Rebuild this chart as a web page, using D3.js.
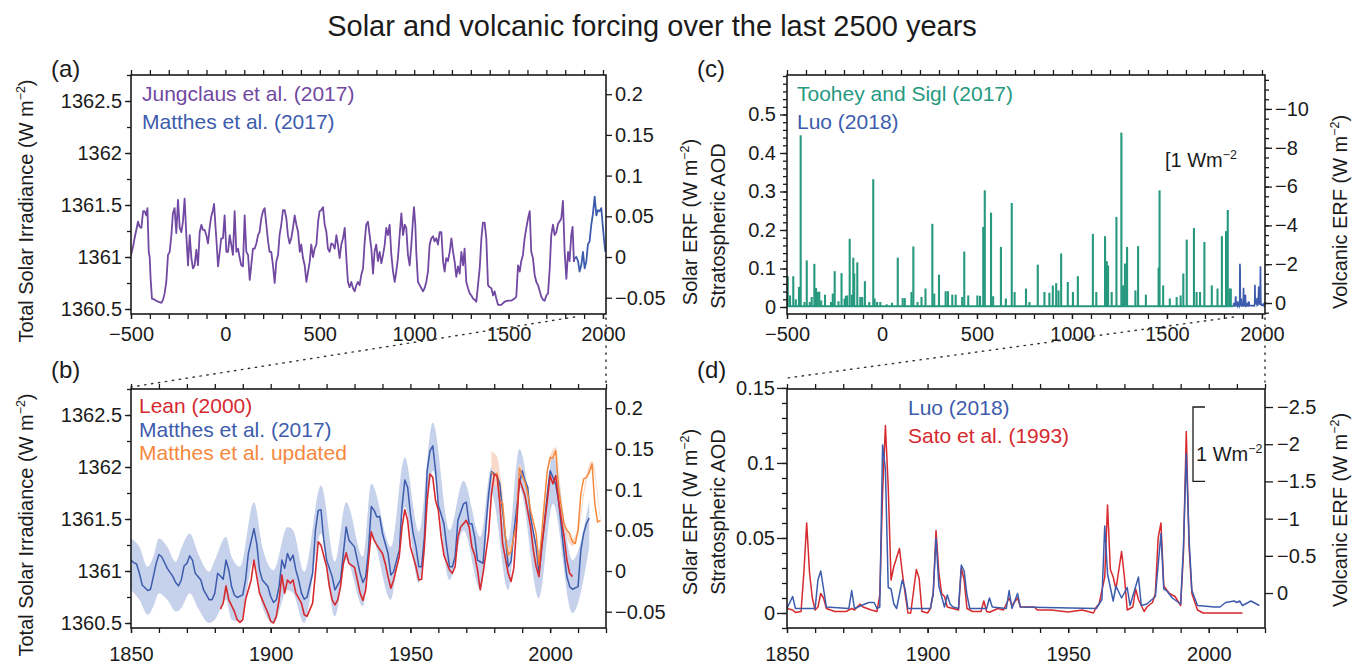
<!DOCTYPE html>
<html>
<head>
<meta charset="utf-8">
<script src="https://cdn.jsdelivr.net/npm/d3@7/dist/d3.min.js"></script>
<style>
html,body{margin:0;padding:0;background:#fff;}
svg{display:block;font-family:"Liberation Sans",Arial,Helvetica,sans-serif;}
</style>
</head>
<body>
<svg id="chart" width="1362" height="664"></svg>
<script>
// ================= DATA =================
// Panel (a): Jungclaus et al. (2017) TSI [year, W m-2]
const jungclausTSI = [[-500,1361.02],[-489,1361.10],[-481,1361.18],[-472,1361.26],[-463,1361.34],[-454,1361.29],[-445,1361.28],[-436,1361.44],[-428,1361.44],[-419,1361.40],[-413,1361.47],[-406,1361.05],[-401,1361.00],[-396,1360.79],[-389,1360.60],[-375,1360.59],[-357,1360.57],[-339,1360.56],[-330,1360.59],[-322,1360.65],[-313,1360.76],[-304,1361.02],[-295,1361.05],[-286,1361.21],[-278,1361.42],[-269,1361.47],[-260,1361.23],[-251,1361.55],[-242,1361.28],[-233,1361.24],[-225,1361.34],[-216,1361.56],[-207,1361.21],[-198,1360.92],[-189,1361.21],[-180,1360.99],[-172,1360.89],[-163,1360.92],[-154,1361.07],[-145,1360.92],[-136,1361.24],[-127,1361.31],[-119,1361.26],[-110,1361.26],[-101,1361.21],[-92,1361.13],[-83,1361.29],[-75,1361.39],[-66,1361.45],[-60,1361.51],[-53,1361.31],[-46,1361.12],[-39,1360.91],[-30,1361.05],[-22,1361.18],[-13,1361.18],[-4,1361.40],[5,1361.05],[14,1361.05],[23,1361.21],[31,1361.12],[40,1361.02],[49,1361.44],[58,1361.05],[67,1361.08],[76,1360.99],[84,1360.92],[93,1360.91],[102,1361.40],[111,1361.05],[120,1361.02],[129,1360.78],[137,1360.92],[146,1361.08],[155,1361.08],[164,1361.13],[173,1361.21],[181,1361.24],[190,1361.37],[199,1361.44],[208,1361.47],[217,1361.31],[226,1361.15],[234,1361.05],[243,1361.05],[252,1360.92],[261,1360.75],[270,1360.96],[279,1361.02],[287,1361.21],[296,1361.31],[305,1361.45],[314,1361.45],[323,1361.37],[331,1361.21],[340,1361.13],[349,1361.18],[358,1361.28],[367,1361.40],[376,1361.31],[385,1361.24],[394,1361.05],[402,1361.12],[411,1360.99],[420,1360.92],[429,1360.76],[438,1360.86],[447,1360.96],[455,1361.12],[464,1361.00],[473,1361.08],[482,1361.12],[491,1361.34],[499,1361.44],[508,1361.45],[517,1361.48],[526,1361.31],[535,1361.24],[543,1361.08],[552,1361.05],[561,1361.13],[570,1361.12],[579,1361.08],[588,1361.21],[596,1361.12],[605,1360.99],[614,1361.12],[623,1361.18],[632,1361.28],[641,1360.98],[649,1360.76],[658,1360.71],[667,1360.76],[676,1360.70],[685,1360.67],[694,1360.73],[702,1360.76],[711,1360.73],[720,1360.83],[729,1360.89],[738,1361.15],[746,1361.31],[755,1361.34],[764,1361.21],[773,1361.08],[782,1360.84],[790,1361.05],[799,1361.12],[808,1360.96],[817,1361.05],[826,1360.94],[835,1361.02],[844,1361.12],[852,1361.28],[861,1361.21],[870,1361.31],[879,1361.02],[888,1360.86],[897,1360.76],[905,1360.86],[914,1360.99],[923,1361.21],[932,1361.42],[941,1361.21],[950,1361.31],[958,1361.28],[967,1361.02],[976,1360.92],[985,1361.12],[994,1361.37],[999,1361.48],[1006,1361.31],[1011,1361.05],[1020,1360.76],[1029,1360.73],[1038,1360.70],[1047,1360.67],[1055,1360.70],[1064,1360.76],[1073,1360.86],[1082,1361.12],[1091,1361.18],[1100,1361.20],[1108,1361.15],[1117,1361.18],[1126,1361.12],[1135,1361.24],[1144,1361.24],[1153,1360.96],[1161,1360.86],[1170,1360.99],[1179,1360.96],[1188,1361.05],[1197,1361.18],[1206,1361.05],[1214,1360.96],[1223,1360.81],[1232,1360.91],[1241,1360.84],[1250,1361.05],[1259,1360.92],[1267,1361.08],[1276,1360.76],[1285,1360.70],[1294,1360.65],[1303,1360.63],[1312,1360.60],[1320,1360.59],[1329,1360.57],[1338,1360.73],[1347,1360.89],[1356,1361.18],[1364,1361.33],[1373,1361.33],[1382,1361.18],[1391,1360.73],[1400,1360.71],[1409,1360.70],[1418,1360.63],[1426,1360.67],[1435,1360.60],[1444,1360.54],[1453,1360.54],[1461,1360.54],[1479,1360.57],[1497,1360.58],[1514,1360.58],[1532,1360.60],[1541,1360.62],[1550,1360.92],[1559,1360.86],[1567,1360.96],[1576,1361.02],[1585,1361.18],[1594,1361.28],[1603,1361.37],[1612,1361.44],[1620,1361.05],[1629,1360.99],[1638,1360.83],[1647,1360.76],[1656,1360.73],[1665,1360.67],[1673,1360.62],[1682,1360.59],[1691,1360.58],[1700,1360.63],[1709,1360.65],[1718,1360.89],[1726,1361.21],[1735,1361.31],[1744,1361.21],[1753,1361.24],[1762,1361.32],[1770,1361.34],[1779,1361.37],[1788,1361.54],[1797,1361.05],[1806,1360.79],[1815,1361.05],[1823,1360.96],[1832,1361.21],[1839,1361.29],[1846,1360.96],[1850,1360.99]];

// Panel (a): Matthes et al. (2017) TSI (long-term view)
const matthesLongTSI = [[1850,1360.99],[1859,1361.00],[1868,1360.96],[1876,1360.86],[1885,1360.92],[1894,1361.05],[1903,1360.89],[1912,1360.96],[1920,1361.12],[1929,1361.15],[1938,1361.31],[1947,1361.42],[1956,1361.58],[1965,1361.40],[1973,1361.45],[1982,1361.44],[1991,1361.47],[2000,1361.28],[2008,1361.12],[2013,1361.05]];

// Panel (b): Matthes et al. (2017) TSI
const matthesTSI = [[1850,1361.105],[1851,1361.08],[1852,1361.067],[1853,1360.978],[1854,1360.866],[1856,1360.812],[1857,1360.825],[1858,1360.946],[1859,1361.073],[1860,1361.159],[1861,1361.137],[1863,1361.025],[1865,1360.946],[1866,1360.889],[1867,1360.857],[1868,1360.914],[1869,1361.048],[1870,1361.073],[1871,1361.146],[1872,1361.105],[1873,1360.978],[1875,1360.914],[1876,1360.818],[1878,1360.723],[1879,1360.723],[1880,1360.787],[1881,1360.978],[1882,1360.952],[1883,1360.92],[1884,1361.105],[1885,1361.01],[1886,1360.85],[1887,1360.77],[1888,1360.745],[1890,1360.77],[1891,1360.914],[1892,1361.169],[1894,1361.408],[1895,1361.264],[1896,1361.01],[1897,1360.914],[1899,1360.85],[1900,1360.755],[1901,1360.697],[1902,1360.723],[1903,1360.85],[1904,1361.105],[1905,1361.025],[1906,1361.169],[1907,1361.10],[1908,1361.153],[1909,1361.01],[1910,1360.914],[1911,1360.787],[1912,1360.729],[1913,1360.748],[1915,1360.978],[1916,1361.39],[1917,1361.583],[1918,1361.589],[1919,1361.296],[1920,1361.105],[1922,1360.946],[1923,1360.818],[1925,1360.914],[1926,1361.169],[1927,1361.424],[1928,1361.296],[1930,1361.232],[1931,1361.105],[1932,1360.978],[1933,1360.889],[1934,1360.946],[1935,1361.2],[1936,1361.621],[1937,1361.583],[1938,1361.519],[1939,1361.525],[1940,1361.36],[1942,1361.169],[1943,1360.962],[1944,1360.994],[1946,1361.2],[1947,1361.615],[1948,1361.876],[1949,1361.806],[1950,1361.551],[1951,1361.36],[1952,1361.232],[1953,1361.041],[1954,1361.041],[1955,1361.328],[1956,1361.965],[1957,1362.156],[1958,1362.204],[1959,1361.965],[1960,1361.631],[1962,1361.455],[1963,1361.232],[1964,1361.041],[1965,1361.041],[1966,1361.137],[1967,1361.487],[1969,1361.646],[1970,1361.662],[1971,1361.455],[1972,1361.455],[1973,1361.328],[1974,1361.105],[1975,1361.089],[1976,1361.073],[1977,1361.424],[1978,1361.742],[1979,1361.955],[1981,1361.917],[1982,1361.838],[1983,1361.567],[1984,1361.328],[1985,1361.041],[1986,1361.089],[1987,1361.36],[1989,1361.838],[1990,1361.965],[1991,1361.869],[1992,1361.806],[1993,1361.519],[1995,1361.232],[1996,1360.978],[1997,1361.232],[1999,1361.742],[2000,1361.965],[2001,1361.901],[2002,1361.831],[2003,1361.678],[2005,1361.169],[2006,1360.946],[2007,1360.85],[2008,1360.825],[2010,1360.85],[2011,1361.2],[2012,1361.36],[2013,1361.455],[2014,1361.51]];

// Panel (b): Matthes et al. (2017) uncertainty range [year, low, high]
const matthesBand = [[1850,1360.818,1361.312],[1853,1360.723,1361.232],[1856,1360.58,1361.041],[1858,1360.659,1361.137],[1860,1360.787,1361.312],[1863,1360.723,1361.232],[1866,1360.611,1361.089],[1868,1360.643,1361.217],[1871,1360.787,1361.36],[1874,1360.643,1361.169],[1878,1360.5,1360.994],[1880,1360.532,1361.105],[1884,1360.723,1361.328],[1886,1360.532,1361.137],[1889,1360.516,1361.041],[1894,1361.105,1361.662],[1897,1360.659,1361.232],[1901,1360.5,1361.01],[1906,1360.818,1361.424],[1908,1360.787,1361.392],[1912,1360.5,1360.994],[1918,1361.36,1361.822],[1923,1360.564,1361.089],[1927,1361.105,1361.662],[1933,1360.659,1361.137],[1936,1361.328,1361.838],[1943,1360.723,1361.232],[1948,1361.615,1362.092],[1953,1360.882,1361.376],[1958,1361.965,1362.427],[1964,1360.914,1361.392],[1969,1361.392,1361.869],[1975,1360.818,1361.328],[1979,1361.742,1361.997],[1985,1360.818,1361.296],[1989,1361.806,1362.172],[1996,1360.739,1361.2],[2001,1361.646,1362.108],[2008,1360.596,1361.105],[2014,1361.232,1361.678]];

// Panel (b): Lean (2000) TSI
const leanTSI = [[1882,1360.634],[1883,1360.691],[1884,1360.857],[1885,1360.723],[1887,1360.611],[1888,1360.532],[1889,1360.506],[1890,1360.532],[1891,1360.723],[1893,1360.914],[1894,1361.105],[1895,1360.946],[1896,1360.787],[1898,1360.659],[1899,1360.596],[1900,1360.516],[1901,1360.5],[1902,1360.564],[1903,1360.723],[1904,1360.962],[1905,1360.787],[1906,1360.914],[1907,1360.882],[1908,1360.914],[1909,1360.787],[1911,1360.691],[1912,1360.58],[1913,1360.564],[1915,1360.691],[1916,1360.978],[1917,1361.28],[1918,1361.248],[1920,1361.041],[1921,1360.85],[1922,1360.723],[1923,1360.675],[1924,1360.723],[1925,1360.85],[1926,1361.073],[1927,1361.175],[1928,1361.073],[1930,1361.035],[1931,1360.914],[1932,1360.787],[1933,1360.717],[1934,1360.818],[1935,1361.105],[1936,1361.376],[1937,1361.296],[1938,1361.248],[1940,1361.169],[1941,1361.073],[1942,1360.946],[1943,1360.834],[1944,1360.914],[1946,1361.137],[1947,1361.424],[1948,1361.589],[1949,1361.487],[1950,1361.232],[1952,1361.041],[1953,1360.914],[1954,1360.92],[1955,1361.232],[1956,1361.678],[1957,1361.933],[1958,1361.901],[1959,1361.678],[1960,1361.583],[1961,1361.328],[1962,1361.153],[1964,1361.01],[1965,1360.978],[1966,1361.041],[1967,1361.328],[1968,1361.424],[1970,1361.487],[1971,1361.424],[1972,1361.232],[1973,1361.153],[1974,1361.01],[1975,1360.818],[1976,1360.978],[1978,1361.36],[1979,1361.742],[1980,1361.927],[1981,1361.917],[1982,1361.646],[1983,1361.264],[1985,1360.978],[1986,1360.898],[1987,1361.025],[1988,1361.424],[1989,1361.885],[1990,1361.806],[1991,1361.726],[1993,1361.424],[1994,1361.2],[1995,1361.041],[1996,1360.946],[1997,1361.232],[1999,1361.678],[2000,1361.917],[2001,1361.838],[2002,1361.917],[2003,1361.678],[2005,1361.328],[2006,1361.105],[2007,1360.978],[2008,1360.946]];

// Panel (b): Matthes et al. updated TSI and its range
const matthesUpdTSI = [[1979,1361.949],[1980,1361.917],[1981,1361.939],[1982,1361.678],[1983,1361.646],[1984,1361.328],[1985,1361.153],[1986,1361.185],[1987,1361.328],[1988,1361.455],[1989,1361.99],[1990,1361.917],[1991,1361.854],[1992,1361.742],[1993,1361.583],[1995,1361.36],[1996,1361.057],[1997,1361.36],[1998,1361.678],[1999,1361.965],[2000,1362.092],[2001,1362.086],[2002,1362.156],[2003,1361.806],[2004,1361.615],[2005,1361.455],[2006,1361.392],[2007,1361.36],[2008,1361.28],[2009,1361.264],[2010,1361.392],[2011,1361.742],[2012,1361.885],[2013,1361.901],[2014,1361.949],[2015,1362.029],[2016,1361.646],[2017,1361.471],[2018,1361.487]];
const matthesUpdBand = [[1979,1361.80,1362.15],[1981,1361.82,1362.10],[1982,1361.62,1361.95],[1983,1361.55,1361.75],[1985,1361.12,1361.22],[1987,1361.29,1361.37],[1989,1361.95,1362.03],[1992,1361.71,1361.77],[1996,1361.02,1361.09],[1999,1361.93,1362.0],[2002,1362.12,1362.19],[2005,1361.42,1361.49],[2008,1361.24,1361.31],[2010,1361.36,1361.42],[2013,1361.86,1361.93],[2015,1362.0,1362.06],[2018,1361.45,1361.52]];

// Panel (c): Toohey and Sigl (2017) stratospheric AOD [year, AOD]
const tooheyAOD = [[-496,0.080],[-484,0.030],[-467,0.080],[-454,0.020],[-437,0.052],[-428,0.446],[-408,0.013],[-396,0.121],[-380,0.013],[-370,0.026],[-356,0.112],[-347,0.049],[-338,0.039],[-330,0.040],[-320,0.017],[-300,0.032],[-268,0.013],[-259,0.035],[-249,0.093],[-229,0.015],[-213,0.088],[-197,0.022],[-190,0.029],[-183,0.030],[-170,0.177],[-158,0.032],[-151,0.128],[-146,0.087],[-130,0.116],[-114,0.026],[-104,0.026],[-90,0.067],[-67,0.013],[-46,0.332],[-39,0.022],[-26,0.013],[-9,0.013],[25,0.007],[53,0.011],[83,0.128],[109,0.023],[120,0.023],[155,0.039],[165,0.157],[187,0.013],[208,0.026],[229,0.048],[265,0.216],[275,0.035],[300,0.084],[335,0.041],[347,0.041],[370,0.032],[388,0.032],[422,0.026],[433,0.144],[454,0.030],[502,0.030],[516,0.029],[533,0.208],[541,0.303],[574,0.245],[585,0.028],[626,0.156],[652,0.022],[683,0.270],[698,0.039],[758,0.048],[776,0.013],[820,0.110],[855,0.039],[881,0.037],[899,0.056],[917,0.062],[929,0.043],[943,0.139],[978,0.065],[1005,0.039],[1031,0.080],[1110,0.190],[1128,0.039],[1174,0.184],[1183,0.119],[1190,0.108],[1209,0.039],[1234,0.234],[1260,0.453],[1269,0.056],[1279,0.113],[1290,0.156],[1334,0.043],[1348,0.158],[1389,0.032],[1456,0.102],[1461,0.303],[1480,0.056],[1515,0.022],[1551,0.026],[1572,0.030],[1586,0.087],[1604,0.175],[1642,0.205],[1656,0.039],[1674,0.039],[1697,0.169],[1736,0.056],[1766,0.048],[1789,0.184],[1811,0.197],[1820,0.252],[1829,0.048],[1836,0.048]];
const tooheyBackground = 0.002;
const tooheySpan = [-500, 1850];

// Panels (c) and (d): Luo (2018) stratospheric AOD
const luoAOD = [[1850,0.003],[1852,0.011],[1853,0.003],[1860,0.003],[1861,0.022],[1862,0.028],[1863,0.016],[1864,0.004],[1872,0.003],[1873,0.015],[1874,0.003],[1879,0.007],[1881,0.007],[1882,0.003],[1883,0.004],[1884,0.112],[1885,0.096],[1886,0.017],[1887,0.016],[1888,0.006],[1889,0.003],[1891,0.022],[1892,0.016],[1893,0.003],[1901,0.003],[1902,0.013],[1903,0.050],[1904,0.018],[1906,0.004],[1907,0.012],[1908,0.006],[1909,0.004],[1911,0.003],[1912,0.032],[1913,0.028],[1914,0.012],[1915,0.003],[1921,0.003],[1922,0.010],[1923,0.004],[1928,0.003],[1929,0.015],[1930,0.003],[1932,0.013],[1933,0.004],[1960,0.003],[1962,0.009],[1963,0.058],[1964,0.026],[1966,0.008],[1967,0.018],[1969,0.010],[1971,0.017],[1972,0.005],[1975,0.024],[1976,0.005],[1978,0.006],[1981,0.011],[1983,0.053],[1984,0.016],[1985,0.015],[1987,0.010],[1990,0.006],[1991,0.044],[1992,0.106],[1993,0.049],[1994,0.015],[1996,0.005],[2002,0.004],[2004,0.004],[2006,0.007],[2009,0.008],[2010,0.007],[2011,0.008],[2012,0.005],[2015,0.008],[2018,0.005]];

// Panel (d): Sato et al. (1993) stratospheric AOD
const satoAOD = [[1850,0.003],[1852,0.002],[1853,0.0004],[1855,0.001],[1856,0.027],[1857,0.060],[1858,0.027],[1859,0.010],[1860,0.002],[1861,0.004],[1862,0.013],[1863,0.010],[1864,0.003],[1867,0.001],[1871,0.001],[1873,0.003],[1874,0.002],[1876,0.006],[1877,0.004],[1880,0.002],[1882,0.001],[1883,0.012],[1884,0.080],[1885,0.125],[1886,0.084],[1887,0.022],[1888,0.031],[1890,0.043],[1891,0.027],[1892,0.013],[1893,0.0],[1894,0.0],[1896,0.029],[1897,0.023],[1898,0.001],[1900,0.0],[1901,0.003],[1902,0.013],[1903,0.055],[1904,0.027],[1905,0.013],[1906,0.011],[1907,0.004],[1909,0.003],[1911,0.002],[1912,0.030],[1913,0.022],[1914,0.003],[1916,0.001],[1919,0.001],[1920,0.008],[1921,0.001],[1922,0.0005],[1925,0.003],[1927,0.002],[1929,0.010],[1930,0.005],[1932,0.010],[1933,0.004],[1938,0.004],[1939,0.002],[1944,0.002],[1950,0.0007],[1955,0.002],[1959,0.0],[1960,0.004],[1961,0.006],[1963,0.024],[1964,0.072],[1965,0.029],[1966,0.024],[1967,0.016],[1969,0.041],[1970,0.024],[1971,0.002],[1973,0.004],[1974,0.016],[1975,0.009],[1977,0.001],[1978,0.004],[1980,0.007],[1981,0.013],[1982,0.050],[1983,0.060],[1984,0.018],[1986,0.013],[1988,0.011],[1990,0.005],[1991,0.040],[1992,0.121],[1993,0.044],[1994,0.013],[1996,0.002],[1998,0.0],[2012,0.0]];

// Tick values
const longYearTicks = [-500, 0, 500, 1000, 1500, 2000];
const shortYearTicks = [1850, 1900, 1950, 2000];
const tsiTicks = [1360.5, 1361, 1361.5, 1362, 1362.5];
const solarErfTicks = [-0.05, 0, 0.05, 0.1, 0.15, 0.2];
const aodTicksC = [0, 0.1, 0.2, 0.3, 0.4, 0.5];
const volcErfTicksC = [0, -2, -4, -6, -8, -10];
const aodTicksD = [0, 0.05, 0.1, 0.15];
const volcErfTicksD = [0, -0.5, -1, -1.5, -2, -2.5];
const scaleBarD = [-2.5, -1.5];

// ================= DRAWING =================
const COL = {purple:"#7149a2", blue:"#3d5cad", red:"#d62a2f", orange:"#f5883d",
             teal:"#26997f", band:"#c6d1eb", oband:"#f8d2bf", ink:"#1b1b1b"};
const svg = d3.select("#chart");
const defs = svg.append("defs");

const P = {
  a:{l:131, r:606, t:75, b:314},
  b:{l:131, r:606, t:389, b:628},
  c:{l:787, r:1265, t:75, b:314},
  d:{l:787, r:1265, t:389, b:628}
};

function clip(id, p){
  defs.append("clipPath").attr("id", id).append("rect")
    .attr("x", p.l).attr("y", p.t).attr("width", p.r - p.l).attr("height", p.b - p.t);
}
Object.keys(P).forEach(k => clip("clip-" + k, P[k]));

const fmt = d3.format("");

function addAxis(gen, tx, ty, values, size, pad, labels){
  const ax = gen.tickValues(values).tickSize(size).tickPadding(pad)
    .tickFormat(labels ? fmt : () => "");
  const g = svg.append("g").attr("transform", `translate(${tx},${ty})`).call(ax);
  g.attr("font-family", null).attr("font-size", null);
  g.select(".domain").remove();
  g.selectAll(".tick line").attr("stroke", COL.ink).attr("stroke-width", 1.3);
  g.selectAll(".tick text").attr("fill", COL.ink).style("font-size", "20px");
  return g;
}

function box(p){
  svg.append("rect").attr("x", p.l).attr("y", p.t).attr("width", p.r - p.l).attr("height", p.b - p.t)
    .attr("fill", "none").attr("stroke", COL.ink).attr("stroke-width", 1.6);
}

function text(x, y, str, size, color, anchor, rot){
  const t = svg.append("text").attr("x", x).attr("y", y)
    .attr("font-size", size).attr("fill", color || COL.ink)
    .attr("text-anchor", anchor || "start");
  if (rot) t.attr("transform", `rotate(${rot},${x},${y})`);
  t.text(str);
  return t;
}
function unitText(x, y, before, size, anchor, rot, after){
  const t = text(x, y, "", size, COL.ink, anchor, rot);
  t.append("tspan").text(before);
  t.append("tspan").attr("dy", -8).attr("font-size", size * 0.62).text("\u22122");
  t.append("tspan").attr("dy", 8).text(after === undefined ? ")" : after);
  return t;
}

// ---------- Panel (a) ----------
const xA = d3.scaleLinear([-500, 2016], [P.a.l, P.a.r]);
const yA = d3.scaleLinear([1360.452, 1362.75], [P.a.b, P.a.t]);
const yAr = d3.scaleLinear([-0.070, 0.2236], [P.a.b, P.a.t]);
const gA = svg.append("g").attr("clip-path", "url(#clip-a)");
const lineA = d3.line().x(d => xA(d[0])).y(d => yA(d[1]));
gA.append("path").datum(jungclausTSI).attr("d", lineA).attr("fill", "none")
  .attr("stroke", COL.purple).attr("stroke-width", 1.8).attr("stroke-linejoin", "round");
gA.append("path").datum(matthesLongTSI).attr("d", lineA).attr("fill", "none")
  .attr("stroke", COL.blue).attr("stroke-width", 1.8).attr("stroke-linejoin", "round");

// ---------- Panel (b) ----------
const xB = d3.scaleLinear([1850, 2020], [P.b.l, P.b.r]);
const yB = d3.scaleLinear([1360.452, 1362.75], [P.b.b, P.b.t]);
const yBr = d3.scaleLinear([-0.070, 0.2236], [P.b.b, P.b.t]);
const gB = svg.append("g").attr("clip-path", "url(#clip-b)");
const areaB = d3.area().curve(d3.curveMonotoneX).x(d => xB(d[0])).y0(d => yB(d[1])).y1(d => yB(d[2]));
const lineB = d3.line().x(d => xB(d[0])).y(d => yB(d[1]));
gB.append("path").datum(matthesBand).attr("d", areaB).attr("fill", COL.band);
gB.append("path").datum(matthesUpdBand).attr("d", areaB).attr("fill", COL.oband).attr("opacity", 0.85);
gB.append("path").datum(matthesTSI).attr("d", lineB).attr("fill", "none")
  .attr("stroke", COL.blue).attr("stroke-width", 1.5).attr("stroke-linejoin", "round");
gB.append("path").datum(matthesUpdTSI).attr("d", lineB).attr("fill", "none")
  .attr("stroke", COL.orange).attr("stroke-width", 1.5).attr("stroke-linejoin", "round");
gB.append("path").datum(leanTSI).attr("d", lineB).attr("fill", "none")
  .attr("stroke", COL.red).attr("stroke-width", 1.6).attr("stroke-linejoin", "round");

// ---------- Panel (c) ----------
const xC = d3.scaleLinear([-500, 2016], [P.c.l, P.c.r]);
const yC = d3.scaleLinear([-0.0182, 0.6026], [P.c.b, P.c.t]);
const yCr = d3.scaleLinear([0.567, -11.75], [P.c.b, P.c.t]);
const gC = svg.append("g").attr("clip-path", "url(#clip-c)");
gC.append("line").attr("x1", xC(tooheySpan[0])).attr("x2", xC(tooheySpan[1]))
  .attr("y1", yC(tooheyBackground)).attr("y2", yC(tooheyBackground))
  .attr("stroke", COL.teal).attr("stroke-width", 2);
gC.selectAll("line.spike").data(tooheyAOD).join("line").attr("class", "spike")
  .attr("x1", d => xC(d[0])).attr("x2", d => xC(d[0]))
  .attr("y1", yC(tooheyBackground)).attr("y2", d => yC(d[1]))
  .attr("stroke", COL.teal).attr("stroke-width", 2.1);
gC.append("path").datum(luoAOD).attr("d", d3.line().x(d => xC(d[0])).y(d => yC(d[1])))
  .attr("fill", "none").attr("stroke", COL.blue).attr("stroke-width", 1.7);

// ---------- Panel (d) ----------
const xD = d3.scaleLinear([1850, 2020], [P.d.l, P.d.r]);
const yD = d3.scaleLinear([-0.01, 0.1493], [P.d.b, P.d.t]);
const yDr = d3.scaleLinear([0.47, -2.742], [P.d.b, P.d.t]);
const gD = svg.append("g").attr("clip-path", "url(#clip-d)");
const lineD = d3.line().x(d => xD(d[0])).y(d => yD(d[1]));
gD.append("path").datum(satoAOD).attr("d", lineD).attr("fill", "none")
  .attr("stroke", COL.red).attr("stroke-width", 1.5).attr("stroke-linejoin", "round");
gD.append("path").datum(luoAOD).attr("d", lineD).attr("fill", "none")
  .attr("stroke", COL.blue).attr("stroke-width", 1.5).attr("stroke-linejoin", "round");

// ---------- Axes ----------
const longMinor = d3.range(-500, 2001, 100);
const shortMinor = d3.range(1850, 2021, 10);
const tsiMinor = d3.range(1360.5, 1362.76, 0.25).map(v => +v.toFixed(2));

// (a)
addAxis(d3.axisBottom(xA), 0, P.a.b, longMinor, 5, 8, false);
addAxis(d3.axisBottom(xA), 0, P.a.b, longYearTicks, 5, 8, true);
addAxis(d3.axisTop(xA), 0, P.a.t, longMinor, 5, 4, false);
addAxis(d3.axisLeft(yA), P.a.l, 0, tsiMinor, 4, 3, false);
addAxis(d3.axisLeft(yA), P.a.l, 0, tsiTicks, 6, 3, true);
addAxis(d3.axisRight(yAr), P.a.r, 0, solarErfTicks, 6, 3, true);
box(P.a);
// (b)
addAxis(d3.axisBottom(xB), 0, P.b.b, shortMinor, 5, 14, false);
addAxis(d3.axisBottom(xB), 0, P.b.b, shortYearTicks, 5, 14, true);
addAxis(d3.axisTop(xB), 0, P.b.t, shortMinor, 5, 4, false);
addAxis(d3.axisLeft(yB), P.b.l, 0, tsiMinor, 4, 3, false);
addAxis(d3.axisLeft(yB), P.b.l, 0, tsiTicks, 6, 3, true);
addAxis(d3.axisRight(yBr), P.b.r, 0, solarErfTicks, 6, 3, true);
box(P.b);
// (c)
const aodMinorC = d3.range(0, 0.601, 0.02).map(v => +v.toFixed(2));
const erfMinorC = d3.range(0.5, -11.6, -0.5).map(v => +v.toFixed(1));
addAxis(d3.axisBottom(xC), 0, P.c.b, longMinor, 5, 8, false);
addAxis(d3.axisBottom(xC), 0, P.c.b, longYearTicks, 5, 8, true);
addAxis(d3.axisTop(xC), 0, P.c.t, longMinor, 5, 4, false);
addAxis(d3.axisLeft(yC), P.c.l, 0, aodMinorC, 4, 3, false);
addAxis(d3.axisLeft(yC), P.c.l, 0, aodTicksC, 7, 4, true);
addAxis(d3.axisRight(yCr), P.c.r, 0, erfMinorC, 4, 3, false);
addAxis(d3.axisRight(yCr), P.c.r, 0, volcErfTicksC, 7, 3, true);
box(P.c);
// (d)
const aodMinorD = d3.range(-0.01, 0.1501, 0.01).map(v => +v.toFixed(2));
addAxis(d3.axisBottom(xD), 0, P.d.b, shortMinor, 5, 14, false);
addAxis(d3.axisBottom(xD), 0, P.d.b, shortYearTicks, 5, 14, true);
addAxis(d3.axisTop(xD), 0, P.d.t, shortMinor, 5, 4, false);
addAxis(d3.axisLeft(yD), P.d.l, 0, aodMinorD, 5, 3, false);
addAxis(d3.axisLeft(yD), P.d.l, 0, aodTicksD, 10, 2, true);
addAxis(d3.axisRight(yDr), P.d.r, 0, volcErfTicksD, 8, 4, true);
box(P.d);

// scale bar in (d)
const sbX = 1193;
svg.append("path")
  .attr("d", `M${sbX + 12},${yDr(scaleBarD[0])}H${sbX}V${yDr(scaleBarD[1])}H${sbX + 12}`)
  .attr("fill", "none").attr("stroke", COL.ink).attr("stroke-width", 1.3);
unitText(1196, 461, "1 Wm", 20, "start", 0, "");
// bracket label in (c)
unitText(1165, 167, "[1 Wm", 20, "start", 0, "");

// ---------- Zoom connectors ----------
const dotStyle = s => s.attr("fill", "none").attr("stroke", "#333").attr("stroke-width", 1.4)
  .attr("stroke-dasharray", "1.4,5.6").attr("stroke-linecap", "round");
svg.append("line").attr("x1", xA(1850)).attr("y1", 317).attr("x2", P.b.l).attr("y2", 387).call(dotStyle);
svg.append("line").attr("x1", P.a.r).attr("y1", 318).attr("x2", P.b.r).attr("y2", 386).call(dotStyle);
svg.append("line").attr("x1", xC(1850)).attr("y1", 317).attr("x2", P.d.l).attr("y2", 378).call(dotStyle);
svg.append("line").attr("x1", P.c.r).attr("y1", 318).attr("x2", P.d.r).attr("y2", 382).call(dotStyle);

// ---------- Texts ----------
text(652, 36, "Solar and volcanic forcing over the last 2500 years", 29, COL.ink, "middle");
text(51, 77, "(a)", 24);
text(51, 378, "(b)", 24);
text(697, 77, "(c)", 24);
text(697, 378, "(d)", 24);

// legends
text(142, 101, "Jungclaus et al. (2017)", 21, COL.purple);
text(142, 129, "Matthes et al. (2017)", 21, COL.blue);
text(139, 413, "Lean (2000)", 21, COL.red);
text(139, 437, "Matthes et al. (2017)", 21, COL.blue);
text(139, 460, "Matthes et al. updated", 21, COL.orange);
text(797, 101, "Toohey and Sigl (2017)", 21, COL.teal);
text(797, 129, "Luo (2018)", 21, COL.blue);
text(908, 415, "Luo (2018)", 21, COL.blue);
text(908, 443, "Sato et al. (1993)", 21, COL.red);

// axis titles
unitText(33, 211, "Total Solar Irradiance (W m", 20, "middle", -90);
unitText(33, 525, "Total Solar Irradiance (W m", 20, "middle", -90);
unitText(697, 222, "Solar ERF (W m", 20, "middle", -90);
text(725, 226, "Stratospheric AOD", 20, COL.ink, "middle", -90);
unitText(697, 512, "Solar ERF (W m", 20, "middle", -90);
text(725, 512, "Stratospheric AOD", 20, COL.ink, "middle", -90);
unitText(1347, 212, "Volcanic ERF (W m", 20, "middle", -90);
unitText(1347, 510, "Volcanic ERF (W m", 20, "middle", -90);
</script>
</body>
</html>
